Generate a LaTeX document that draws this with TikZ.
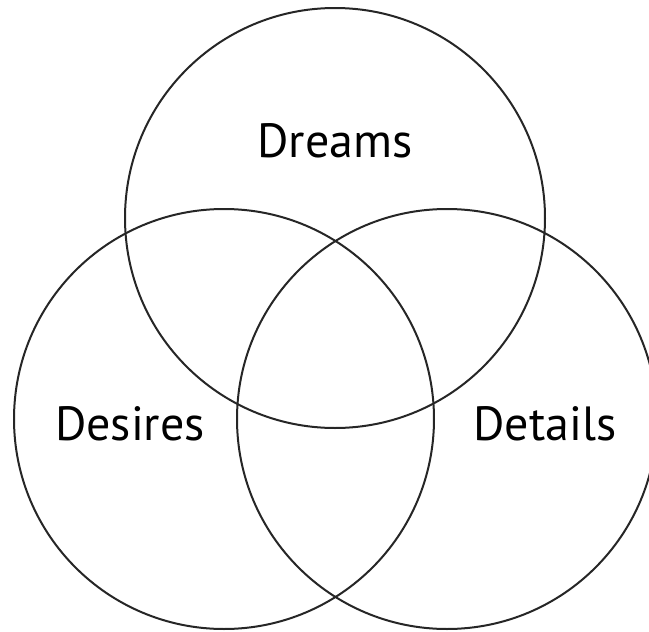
\documentclass[tikz,border=0pt]{standalone}
\usepackage{fontspec}
\setmainfont{PT Sans}
\usetikzlibrary{calc}

\begin{document}
\begin{tikzpicture}[x=1pt,y=-1pt,
    ring/.style={line width=2pt,draw=black!85},
    tag/.style={font=\fontsize{48}{56}\selectfont,anchor=base,inner sep=0pt}]
  \useasboundingbox (0,0) rectangle (649,632);
  \clip (0,0) rectangle (649,632);
  % the three circles
  \coordinate (top) at (335,218);
  \coordinate (lft) at (224,419);
  \coordinate (rgt) at (447,419);
  \draw[ring] (top) circle[radius=210pt];
  \draw[ring] (lft) circle[radius=210pt];
  \draw[ring] (rgt) circle[radius=210pt];
  % labels
  \node[tag] (dreams) at (335,157) {Dreams};
  \node[tag] (desires) at (130,440) {Desires};
  \node[tag] (details) at (545,440) {Details};
\end{tikzpicture}
\end{document}
